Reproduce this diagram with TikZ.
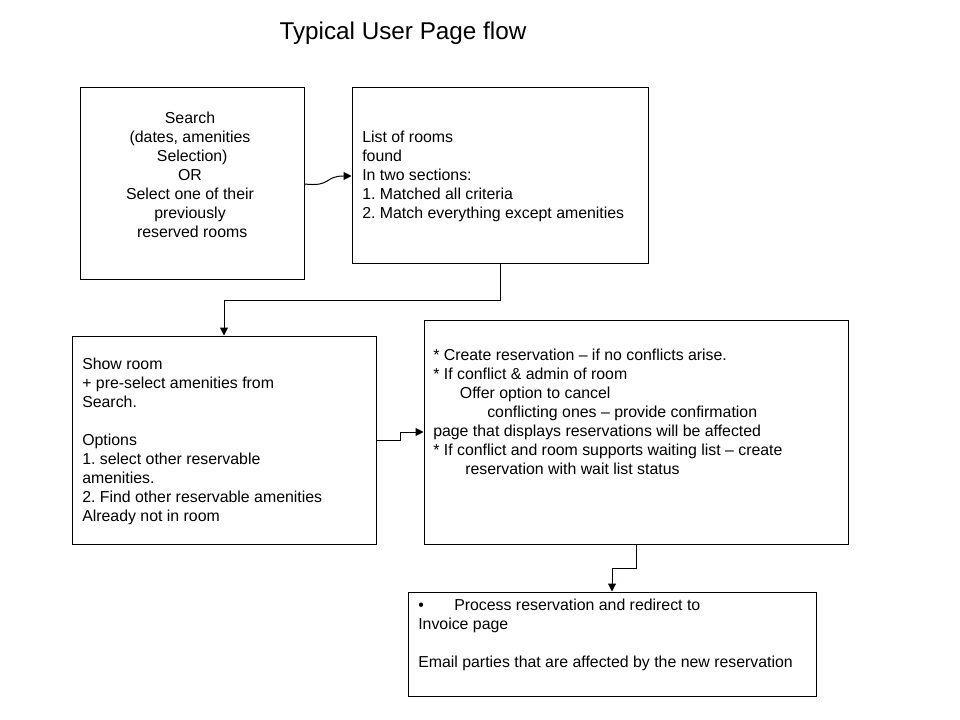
\documentclass[tikz,border=0pt]{standalone}
\usepackage{fontspec}
\setmainfont{Liberation Sans}
\usetikzlibrary{arrows.meta}
\frenchspacing
\begin{document}
\begin{tikzpicture}[x=0.75pt,y=-0.75pt,
  box/.style={draw=black,line width=0.75pt,inner sep=0pt},
  txt/.style={inner sep=0pt,font=\fontsize{11.9pt}{14.25pt}\selectfont\frenchspacing},
  conn/.style={draw=black,line width=0.75pt,-{Triangle[length=6pt,width=6pt]}}]
\useasboundingbox[fill=white] (0,0) rectangle (960,720);
\node[inner sep=0pt,font=\fontsize{18.2pt}{20pt}\selectfont] (title) at (403,33.5) {Typical User Page flow};
\node[box,minimum width=168pt,minimum height=144pt] (b1) at (192,184) {};
\node[box,minimum width=222pt,minimum height=132pt] (b2) at (500,176) {};
\node[box,minimum width=228pt,minimum height=156pt] (b3) at (224,440) {};
\node[box,minimum width=318pt,minimum height=168pt] (b4) at (636,432) {};
\node[box,minimum width=306pt,minimum height=78pt] (b5) at (612,644) {};
\node[txt,align=center] (t1) at (190,175) {Search\\(dates, amenities\\ \ Selection)\\OR\\Select one of their\\previously\\ \ reserved rooms};
\node[txt,align=left,anchor=west] (t2) at (362,176.5) {List of rooms\\found\\In two sections:\\1. Matched all criteria\\2. Match everything except amenities};
\node[txt,align=left,anchor=west] (t3) at (82,441) {Show room\\+ pre-select amenities from\\Search.\\\mbox{}\\Options\\1. select other reservable\\amenities.\\2. Find other reservable amenities\\Already not in room};
\node[txt,align=left,anchor=west] (t4) at (433,411.5) {* Create reservation -- if no conflicts arise.\\* If conflict \& admin of room\\\hspace*{20pt}Offer option to cancel\\\hspace*{40.5pt}conflicting ones -- provide confirmation\\page that displays reservations will be affected\\* If conflict and room supports waiting list -- create\\\hspace*{24pt}reservation with wait list status};
\node[txt,align=left,anchor=west] (t5) at (418,635) {\makebox[27pt][l]{•}Process reservation and redirect to\\Invoice page\\\mbox{}\\Email parties that are affected by the new reservation};
\draw[conn] (b1.east) .. controls (332,187) and (324,176) .. (b2.west);
\draw[conn] (b2.south) -- ++(0,36) -| (b3.north);
\draw[conn] (b3.east) -- ++(24,0) |- (b4.west);
\draw[conn] (b4.south) -- ++(0,24) -| (b5.north);
\end{tikzpicture}
\end{document}
